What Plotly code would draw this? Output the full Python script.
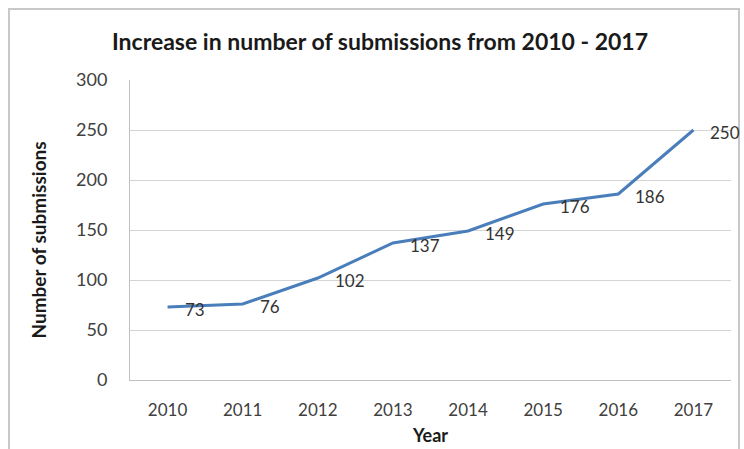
import plotly.graph_objects as go

years = ["2010", "2011", "2012", "2013", "2014", "2015", "2016", "2017"]
submissions = [73, 76, 102, 137, 149, 176, 186, 250]
y_ticks = [0, 50, 100, 150, 200, 250, 300]

FONT = "Lato, 'Open Sans', sans-serif"
TICK_COLOR = "#404040"
LINE_COLOR = "#4a7ebb"

fig = go.Figure()
fig.add_trace(go.Scatter(
    x=years,
    y=submissions,
    mode="lines",
    line=dict(color=LINE_COLOR, width=3),
    hoverinfo="x+y",
))

# Value labels sit just right of each point (category axis: position = index)
for i, v in enumerate(submissions):
    fig.add_annotation(
        x=i, y=v, text=str(v), showarrow=False,
        xanchor="left", yanchor="middle", xshift=15, yshift=-2,
        font=dict(family=FONT, size=17, color="#333333"),
    )

# Y-axis title, placed a little below the plot's middle
fig.add_annotation(
    xref="paper", yref="paper", x=-0.153, y=0.465,
    text="<b>Number of submissions</b>", textangle=-90, showarrow=False,
    xanchor="center", yanchor="middle",
    font=dict(family=FONT, size=19, color="#1a1a1a"),
)

# Light frame around the whole chart
fig.add_shape(
    type="rect", xref="paper", yref="paper",
    x0=-0.2013, x1=1.0133, y0=-0.35, y1=1.2367,
    line=dict(color="#c8c8c8", width=2), fillcolor="rgba(0,0,0,0)",
    layer="below",
)

fig.update_layout(
    width=744, height=449,
    margin=dict(l=130, r=13, t=80, b=69, autoexpand=False),
    paper_bgcolor="white", plot_bgcolor="white",
    showlegend=False,
    title=dict(
        text="<b>Increase in number of submissions from 2010 - 2017</b>",
        x=380 / 744, xanchor="center", y=1 - 42 / 449, yanchor="middle",
        font=dict(family=FONT, size=23, color="#1a1a1a"),
    ),
    xaxis=dict(
        type="category",
        range=[-0.5, len(years) - 0.5],
        automargin=False,
        showgrid=False,
        showline=True, linecolor="#bfbfbf", linewidth=1,
        ticks="", tickfont=dict(family=FONT, size=17, color=TICK_COLOR),
        ticklabelstandoff=15,
        title=dict(text="<b>Year</b>", font=dict(family=FONT, size=18, color="#1a1a1a"),
                   standoff=9),
    ),
    yaxis=dict(
        range=[0, 300],
        tickvals=y_ticks,
        automargin=False,
        showgrid=True, gridcolor="#d4d4d4", gridwidth=1,
        showline=True, linecolor="#bfbfbf", linewidth=1,
        zeroline=False,
        ticks="", tickfont=dict(family=FONT, size=18, color=TICK_COLOR),
        ticklabelstandoff=18,
    ),
)

fig.write_html("out.html")
